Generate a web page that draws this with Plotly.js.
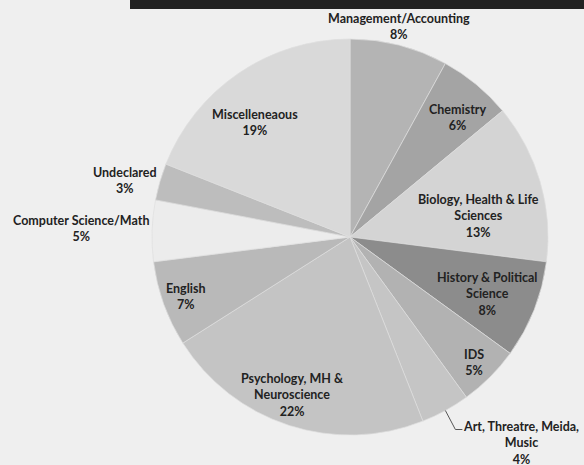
<!DOCTYPE html>
<html>
<head>
<meta charset="utf-8">
<script src="https://cdn.plot.ly/plotly-3.0.1.min.js"></script>
<style>html,body{margin:0;padding:0;background:#efefef;}#chart{width:584px;height:465px;}</style>
</head>
<body>
<div id="chart"></div>
<script>
// ---- data ----
var categories = [
  "Management/Accounting",
  "Chemistry",
  "Biology, Health & Life<br>Sciences",
  "History & Political<br>Science",
  "IDS",
  "Art, Threatre, Meida,<br>Music",
  "Psychology, MH &<br>Neuroscience",
  "English",
  "Computer Science/Math",
  "Undeclared",
  "Miscelleneaous"
];
var shares = [8, 6, 13, 8, 5, 4, 22, 7, 5, 3, 19];

// ---- style ----
var sliceColors = ["#b4b4b4", "#a4a4a4", "#d4d4d4", "#8c8c8c", "#b2b2b2", "#c5c5c5",
                   "#c4c4c4", "#b9b9b9", "#ececec", "#bdbdbd", "#d9d9d9"];
// label placement: radius as fraction of pie radius, and angular nudge (deg)
var labelR  = [1.09, 0.81, 0.66, 0.75, 0.89, 1.35, 0.85, 0.88, 1.36, 1.17, 0.75];
var labelDA = [-1.4, 2.4, 6.9, 1.0, 0.5, -10.9, 2.0, 0.0, 0.0, -2.0, -5.6];

var W = 584, H = 465;
var CX = 350, CY = 237, R = 198;   // pixel geometry of the pie
var dom = {
  x: [(CX - R) / W, (CX + R) / W],
  y: [(H - CY - R) / H, (H - CY + R) / H]
};

var total = shares.reduce(function (a, b) { return a + b; }, 0);
function toPaper(px, py) { return [px / W, 1 - py / H]; }
function polar(angDeg, rFrac) {
  var a = angDeg * Math.PI / 180;
  return [CX + rFrac * R * Math.sin(a), CY - rFrac * R * Math.cos(a)];
}

var annotations = [];
var shapes = [{
  type: "rect", xref: "paper", yref: "paper",
  x0: 130 / W, x1: 1, y0: 1 - 9 / H, y1: 1,
  fillcolor: "#222222", line: { width: 0 }
}];

var cum = 0;
shares.forEach(function (v, i) {
  var mid = (cum + v / 2) / total * 360;
  cum += v;
  var p = polar(mid + labelDA[i], labelR[i]);
  var pp = toPaper(p[0], p[1]);
  annotations.push({
    xref: "paper", yref: "paper", x: pp[0], y: pp[1],
    xanchor: "center", yanchor: "middle", showarrow: false, align: "center",
    text: categories[i] + "<br>" + Math.round(v / total * 100) + "%",
    font: { family: "Lato, 'Open Sans', sans-serif", size: 12.5, color: "#222222", weight: "bold" }
  });
  if (i === 5) {
    // leader line from pie edge to the outside label
    var e = polar(mid, 1.0);
    var t = toPaper(e[0], e[1]);
    var k = toPaper(e[0] + 10, e[1] + 19);
    var h = toPaper(e[0] + 17, e[1] + 19);
    shapes.push({
      type: "path", xref: "paper", yref: "paper",
      path: "M " + t[0] + " " + t[1] + " L " + k[0] + " " + k[1] + " L " + h[0] + " " + h[1],
      line: { color: "#555555", width: 1 }
    });
  }
});

var trace = {
  type: "pie",
  labels: categories,
  values: shares,
  sort: false,
  direction: "clockwise",
  rotation: 0,
  textinfo: "none",
  hoverinfo: "label+percent",
  marker: { colors: sliceColors, line: { color: "#dedede", width: 0.7 } },
  domain: dom,
  showlegend: false
};

var layout = {
  width: W, height: H,
  margin: { l: 0, r: 0, t: 0, b: 0 },
  paper_bgcolor: "#efefef",
  plot_bgcolor: "#efefef",
  showlegend: false,
  annotations: annotations,
  shapes: shapes
};

Plotly.newPlot("chart", [trace], layout, { displayModeBar: false, staticPlot: true });
</script>
</body>
</html>
